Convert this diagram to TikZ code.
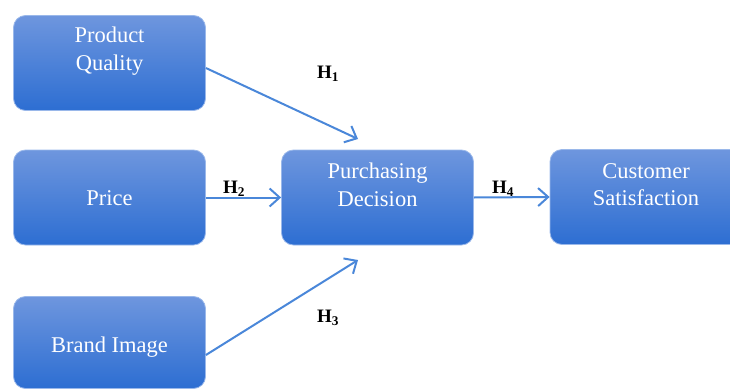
\documentclass[tikz,border=0pt]{standalone}
\usepackage{fontspec}
\setmainfont{Liberation Serif}
\usetikzlibrary{arrows.meta}
\definecolor{boxtop}{HTML}{6E96DE}
\definecolor{boxbot}{HTML}{2D6ED2}
\definecolor{boxedge}{HTML}{9AB8EA}
\definecolor{arrowc}{HTML}{4A87D9}
\tikzset{
  factor/.style={rounded corners=12pt, top color=boxtop, bottom color=boxbot,
    draw=boxedge, line width=0.8pt, minimum width=192pt, minimum height=95pt,
    inner sep=0pt},
  boxtext/.style={text=white, align=center, inner sep=0pt,
    font=\fontsize{22.5}{27.5}\selectfont},
  link/.style={draw=arrowc, line width=2pt,
    -{Straight Barb[length=10pt,width=18pt,line width=2pt]}},
  hyp/.style={font=\fontsize{19}{22}\selectfont\bfseries, inner sep=0pt}
}
\begin{document}
\begin{tikzpicture}[x=1pt,y=-1pt]
\useasboundingbox (0,0) rectangle (730,388);
\node[factor] (pq) at (109.5,63) {};
\node[factor] (pr) at (109.5,197.5) {};
\node[factor, minimum height=92pt] (bi) at (109.5,342.5) {};
\node[factor] (pd) at (377.5,197.5) {};
\node[factor] (cs) at (646,197) {};
\node[boxtext] (pqt) at ([yshift=12pt]pq.center) {Product\\Quality};
\node[boxtext] (prt) at ([yshift=-1pt]pr.center) {Price};
\node[boxtext] (bit) at ([yshift=-5pt]bi.center) {Brand Image};
\node[boxtext] (pdt) at ([yshift=12.5pt]pd.center) {Purchasing\\Decision};
\node[boxtext] (cst) at ([yshift=12.5pt]cs.center) {Customer\\Satisfaction};
\coordinate (t1) at (358,139);
\coordinate (t3) at (358,260);
\draw[link] (pq.east |- 0,68) -- (t1);
\draw[link] (pr.east) -- (pd.west);
\draw[link] (bi.east |- 0,355) -- (t3);
\draw[link] (pd.east) -- (cs.west);
\node[hyp] (h1) at (328,74) {H\textsubscript{1}};
\node[hyp] (h2) at (234,189) {H\textsubscript{2}};
\node[hyp] (h3) at (328,318) {H\textsubscript{3}};
\node[hyp] (h4) at (503,189) {H\textsubscript{4}};
\end{tikzpicture}
\end{document}
